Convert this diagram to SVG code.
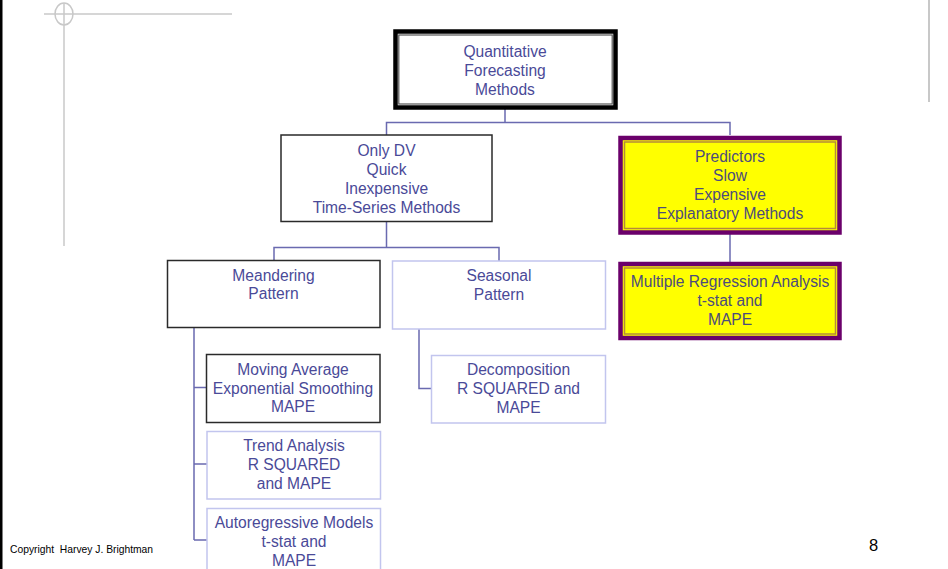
<svg xmlns="http://www.w3.org/2000/svg" width="948" height="569" viewBox="0 0 948 569">
  <style>
    .lbl { font-family: "Liberation Sans", Arial, sans-serif; font-size: 15.6px; fill: #4a4a98; text-anchor: middle; }
    .lbl-y { fill: #4c4c7c; }
    .plain { fill: #ffffff; stroke: #2a2a2a; stroke-width: 1.5; }
    .light { fill: #ffffff; stroke: #c2c5ee; stroke-width: 1.5; }
    .hl-outer { fill: #ffff00; stroke: #6b006b; stroke-width: 4.5; }
    .hl-inner { fill: none; stroke: #b58a3a; stroke-width: 1.5; }
    .wire { fill: none; stroke: #6a6ab0; stroke-width: 1.5; }
    .guide { fill: none; stroke: #c8c8c8; stroke-width: 1.5; }
    .foot { font-family: "Liberation Sans", Arial, sans-serif; fill: #000000; white-space: pre; }
  </style>

  <rect width="948" height="569" fill="#ffffff"/>

  <!-- page frame and guide marks -->
  <rect x="0" y="0" width="2.5" height="569" fill="#000000"/>
  <line class="guide" x1="44" y1="14" x2="232" y2="14"/>
  <line class="guide" x1="64" y1="3" x2="64" y2="246"/>
  <ellipse class="guide" cx="64" cy="14" rx="9" ry="11"/>
  <line x1="929" y1="0" x2="929" y2="102" stroke="#c8c8c8" stroke-width="2"/>

  <!-- connectors -->
  <g id="connectors">
    <path class="wire" d="M505 108 V122.5 M386.5 135 V122.5 H730 V135"/>
    <path class="wire" d="M386.5 222 V247.5 M274 260 V247.5 H499 V261"/>
    <path class="wire" d="M730 234 V262"/>
    <path class="wire" d="M194 328 V540 M194 387.5 H206 M194 464 H207 M194 540 H207"/>
    <path class="wire" d="M419 329 V388.5 H431"/>
  </g>

  <g id="quantitative">
    <rect x="395.5" y="31.5" width="220" height="76" fill="#ffffff" stroke="#000000" stroke-width="4.5"/>
    <rect x="398.8" y="35" width="213.4" height="69" fill="none" stroke="#555555" stroke-width="1.2"/>
    <text class="lbl" x="505" y="57.2">Quantitative</text>
    <text class="lbl" x="505" y="75.8">Forecasting</text>
    <text class="lbl" x="505" y="94.5">Methods</text>
  </g>

  <g id="time-series">
    <rect class="plain" x="281" y="135" width="211" height="86.5"/>
    <text class="lbl" x="386.5" y="156.2">Only DV</text>
    <text class="lbl" x="386.5" y="174.8">Quick</text>
    <text class="lbl" x="386.5" y="193.8">Inexpensive</text>
    <text class="lbl" x="386.5" y="212.8">Time-Series Methods</text>
  </g>

  <g id="explanatory">
    <rect class="hl-outer" x="620.5" y="138" width="219" height="94.5"/>
    <rect class="hl-inner" x="624.5" y="142" width="211" height="86.5"/>
    <text class="lbl lbl-y" x="730" y="161.5">Predictors</text>
    <text class="lbl lbl-y" x="730" y="180.5">Slow</text>
    <text class="lbl lbl-y" x="730" y="199.5">Expensive</text>
    <text class="lbl lbl-y" x="730" y="218.8">Explanatory Methods</text>
  </g>

  <g id="regression">
    <rect class="hl-outer" x="620.5" y="264" width="219" height="74"/>
    <rect class="hl-inner" x="624.5" y="268" width="211" height="66"/>
    <text class="lbl lbl-y" x="730" y="287.2">Multiple Regression Analysis</text>
    <text class="lbl lbl-y" x="730" y="305.5">t-stat and</text>
    <text class="lbl lbl-y" x="730" y="324.8">MAPE</text>
  </g>

  <g id="meandering">
    <rect class="plain" x="167.5" y="260.5" width="212.5" height="67"/>
    <text class="lbl" x="273.5" y="280.5">Meandering</text>
    <text class="lbl" x="273.5" y="299.3">Pattern</text>
  </g>

  <g id="seasonal">
    <rect class="light" x="392.5" y="261" width="213" height="68"/>
    <text class="lbl" x="499" y="280.5">Seasonal</text>
    <text class="lbl" x="499" y="299.8">Pattern</text>
  </g>

  <g id="moving-average">
    <rect class="plain" x="206.5" y="354.5" width="173.5" height="68"/>
    <text class="lbl" x="293" y="374.8">Moving Average</text>
    <text class="lbl" x="293" y="393.5">Exponential Smoothing</text>
    <text class="lbl" x="293" y="412.2">MAPE</text>
  </g>

  <g id="decomposition">
    <rect class="light" x="431.5" y="355.5" width="174" height="67.5"/>
    <text class="lbl" x="518.5" y="374.8">Decomposition</text>
    <text class="lbl" x="518.5" y="393.5">R SQUARED and</text>
    <text class="lbl" x="518.5" y="412.8">MAPE</text>
  </g>

  <g id="trend">
    <rect class="light" x="207" y="431.5" width="173.5" height="67.5"/>
    <text class="lbl" x="294" y="451.2">Trend Analysis</text>
    <text class="lbl" x="294" y="469.8">R SQUARED</text>
    <text class="lbl" x="294" y="488.8">and MAPE</text>
  </g>

  <g id="autoregressive">
    <rect class="light" x="207" y="508.5" width="173.5" height="70"/>
    <text class="lbl" x="294" y="528.2">Autoregressive Models</text>
    <text class="lbl" x="294" y="546.8">t-stat and</text>
    <text class="lbl" x="294" y="565.5">MAPE</text>
  </g>

  <!-- footer -->
  <text class="foot" x="10" y="552.5" font-size="10.3" xml:space="preserve">Copyright  Harvey J. Brightman</text>
  <text class="foot" x="869" y="551" font-size="16.5">8</text>
</svg>
